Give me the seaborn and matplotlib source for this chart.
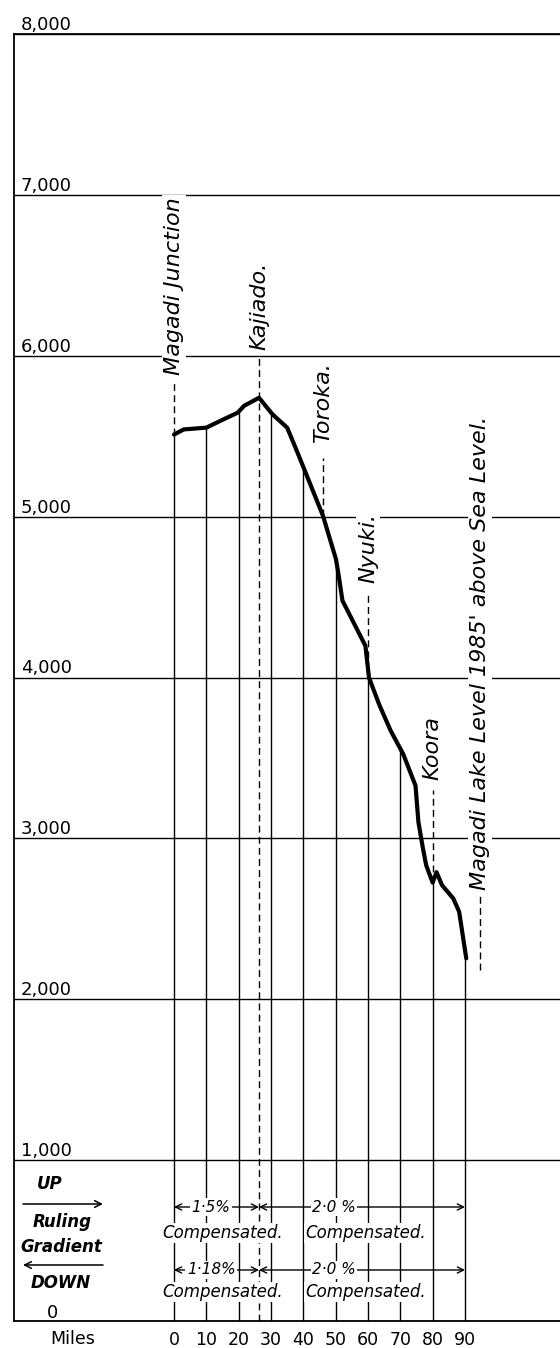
import numpy as np
import matplotlib
matplotlib.use("Agg")
import matplotlib.pyplot as plt
import seaborn as sns

# profile: miles from Magadi Junction / height in feet
miles = [0, 3, 10, 14.4, 19.7, 21.7, 26.3, 30.5, 35, 37.8, 40.3, 46.1, 50.1, 50.8,
         52.1, 59.2, 60.3, 63.5, 67, 70.9, 74.7, 75.6, 77, 78, 80, 81.2, 82.9,
         86.4, 88.2, 90.4]
elevation = [5510, 5542, 5553, 5596, 5646, 5689, 5739, 5635, 5553, 5418, 5294,
             5004, 4735, 4652, 4478, 4197, 4000, 3830, 3670, 3524, 3328, 3101,
             2938, 2833, 2725, 2790, 2709, 2626, 2544, 2254]

mile_ticks = [0, 10, 20, 30, 40, 50, 60, 70, 80, 90]
height_ticks = [0, 1000, 2000, 3000, 4000, 5000, 6000, 7000, 8000]

stations = ["Magadi Junction", "Kajiado.", "Toroka.", "Nyuki.", "Koora"]
station_miles = [0, 26.3, 46.1, 60, 80]
lake_label = "Magadi Lake Level 1985' above Sea Level."

up_gradients = ["1·5%", "2·0 %"]
down_gradients = ["1·18%", "2·0 %"]
gradient_breaks = [0, 26.3, 90]

sns.set_style("white")
plt.rcParams["font.family"] = ["DejaVu Sans"]
plt.rcParams["text.color"] = "black"
plt.rcParams["xtick.color"] = "black"
plt.rcParams["xtick.labelcolor"] = "black"

fig = plt.figure(figsize=(5.6, 13.48), dpi=100)
ax = fig.add_axes([14 / 560, 27 / 1348, 546 / 560, 1287 / 1348])

# px -> data helpers for the annotations (layout only)
def mx(px):
    return (px - 174) / 3.233

def fy(py):
    return (1321 - py) / 0.160875

ax.set_xlim(mx(14), mx(560))
ax.set_ylim(0, 8000)

# horizontal rules every 1000 ft
ax.set_yticks(height_ticks)
ax.grid(axis="y", color="black", lw=1.0)
ax.grid(axis="x", visible=False)
ax.set_axisbelow(True)
ax.tick_params(axis="y", length=0, labelleft=False)
ax.spines["right"].set_visible(False)
for side in ["left", "top", "bottom"]:
    ax.spines[side].set_color("black")
    ax.spines[side].set_linewidth(1.3)

# ordinates every 10 miles up to the profile
ax.vlines(mile_ticks, 0, np.interp(mile_ticks, miles, elevation),
          color="black", lw=1.0, zorder=1)

sns.lineplot(x=miles, y=elevation, ax=ax, color="black", linewidth=3.0,
             sort=False, estimator=None, zorder=3, solid_joinstyle="round")

dash = (0, (5, 3))
lab_kw = dict(rotation=90, rotation_mode="anchor", ha="left", va="center",
              fontsize=16, style="italic", zorder=5,
              bbox=dict(facecolor="white", edgecolor="none", pad=1.5))

# station labels (text start heights)
label_start = [fy(375), fy(350), fy(443), fy(583), fy(780)]
dash_top = [fy(382), fy(355), fy(458), fy(593), fy(790)]
for name, m, ls, dt in zip(stations, station_miles, label_start, dash_top):
    low = 0 if name.startswith("Kajiado") else np.interp(m, miles, elevation)
    ax.plot([m, m], [low, dt], color="black", lw=1.0, ls=dash, zorder=2)
    ax.text(m, ls, name, **lab_kw)

lake_x = mx(480)
ax.plot([lake_x, lake_x], [elevation[-1] - 70, fy(893)], color="black",
        lw=1.0, ls=dash, zorder=2)
ax.text(lake_x, fy(890), lake_label, **lab_kw)

# height labels
for v in height_ticks[1:]:
    ax.text(mx(21), v + 25, f"{v:,}", ha="left", va="baseline", fontsize=13,
            clip_on=False)
ax.text(mx(53), 20, "0", ha="center", va="baseline", fontsize=13)

# miles
ax.set_xticks(mile_ticks)
ax.set_xticklabels([str(m) for m in mile_ticks])
ax.tick_params(axis="x", length=0, pad=7, labelsize=12.5)
fig.text(73 / 560, 1 - 1339 / 1348, "Miles", ha="center", va="center",
         fontsize=12.5)

# ruling gradient key
key_kw = dict(ha="center", va="center", style="italic", fontsize=12,
              fontweight="bold")
ax.text(mx(50), fy(1184), "UP", **key_kw)
ax.text(mx(62), fy(1222), "Ruling", **key_kw)
ax.text(mx(61), fy(1247), "Gradient", **key_kw)
ax.text(mx(61), fy(1283), "DOWN", **key_kw)
arr = dict(arrowstyle="->", lw=1.1, color="black", shrinkA=0, shrinkB=0,
           mutation_scale=12)
ax.annotate("", xy=(mx(103), fy(1204)), xytext=(mx(23), fy(1204)),
            arrowprops=arr)
ax.annotate("", xy=(mx(23), fy(1265)), xytext=(mx(103), fy(1265)),
            arrowprops=arr)

grad_kw = dict(ha="center", va="center", style="italic", fontsize=12,
               zorder=5, bbox=dict(facecolor="white", edgecolor="none", pad=1))
pct_kw = dict(grad_kw, fontsize=11)
two = dict(arrowstyle="<->", lw=1.0, color="black", shrinkA=0, shrinkB=0,
           mutation_scale=11)
for labels, ya, yc in [(up_gradients, fy(1207), fy(1233)),
                       (down_gradients, fy(1270), fy(1292))]:
    for i, g in enumerate(labels):
        a, b = gradient_breaks[i], gradient_breaks[i + 1]
        ax.annotate("", xy=(a, ya), xytext=(b, ya), arrowprops=two, zorder=4)
    ax.text(11.5, ya, labels[0], **pct_kw)
    ax.text(49.5, ya, labels[1], **pct_kw)
    ax.text(15, yc, "Compensated.", **grad_kw)
    ax.text(59.2, yc, "Compensated.", **grad_kw)

fig.savefig("out.png", dpi=100)
